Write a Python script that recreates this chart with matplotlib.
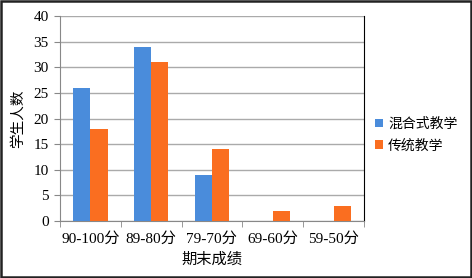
import numpy as np
import matplotlib.pyplot as plt
from matplotlib.patches import Rectangle

categories = ['90-100分', '89-80分', '79-70分', '69-60分', '59-50分']
hunhe = [26, 34, 9, 0, 0]
chuantong = [18, 31, 14, 2, 3]
series_names = ['混合式教学', '传统教学']
yticks = [0, 5, 10, 15, 20, 25, 30, 35, 40]

fonts = ['Liberation Serif', 'Noto Sans CJK SC', 'DejaVu Sans']
plt.rcParams['font.family'] = fonts

fig = plt.figure(figsize=(4.72, 2.78), dpi=100)
ax = fig.add_axes([0.127, 0.205, 0.644, 0.737])

x = np.arange(len(categories))
w = 0.285
ax.bar(x - w / 2, hunhe, w, color='#4A8CDB', label=series_names[0], zorder=3)
ax.bar(x + w / 2, chuantong, w, color='#FA6E20', label=series_names[1], zorder=3)

ax.set_xlim(-0.5, len(categories) - 0.5)
ax.set_ylim(0, 40)
ax.set_yticks(yticks)
ax.set_xticks(x)
ax.set_xticklabels(categories, fontsize=11)
ax.set_xticks(np.arange(len(categories) + 1) - 0.5, minor=True)
ax.tick_params(axis='x', which='major', length=0, pad=8)
ax.tick_params(axis='x', which='minor', length=4, color='#888888')
ax.tick_params(axis='y', length=4, color='#888888', labelsize=11, pad=4)
ax.yaxis.grid(True, color='#AAAAAA', lw=1, zorder=0)

ax.spines['top'].set_visible(False)
ax.spines['left'].set_color('#888888')
ax.spines['bottom'].set_color('#888888')
ax.spines['right'].set_color('black')

ax.set_xlabel('期末成绩', fontsize=11, labelpad=5)
ax.set_ylabel('学生人数', fontsize=10.5, labelpad=6)

ax.legend(loc='center left', bbox_to_anchor=(0.995, 0.42), frameon=False,
          fontsize=10, handlelength=0.55, handleheight=0.55, handletextpad=0.4,
          labelspacing=0.6)

fig.patches.append(Rectangle((0.003, 0.005), 0.994, 0.99, transform=fig.transFigure,
                             fill=False, edgecolor='#222222', lw=1.8))

fig.savefig('out.png', dpi=100)
